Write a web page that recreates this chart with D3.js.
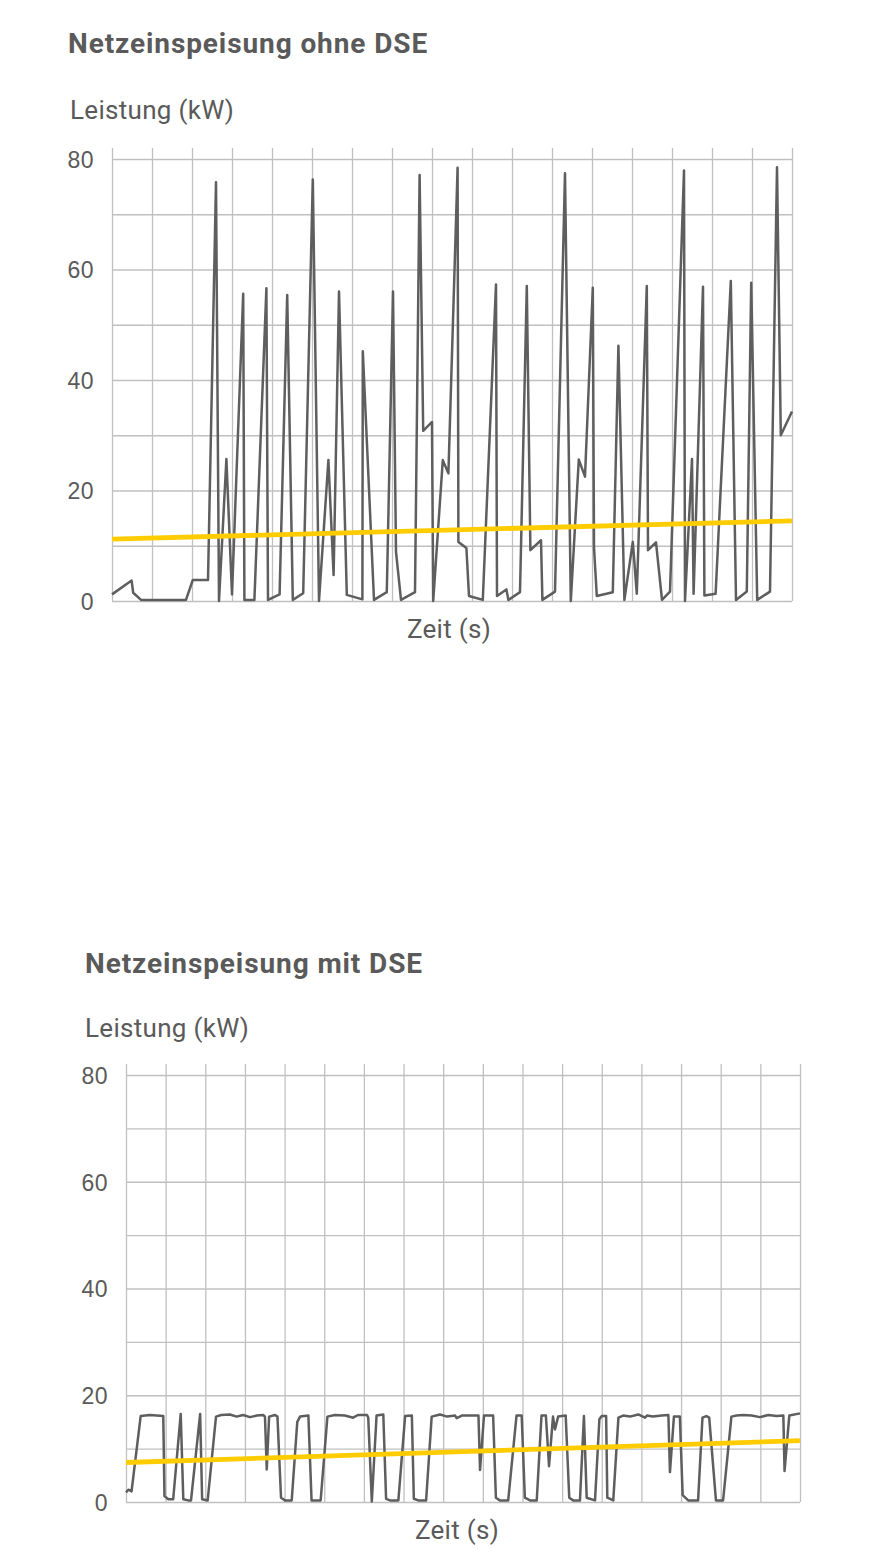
<!DOCTYPE html>
<html lang="de">
<head>
<meta charset="utf-8">
<title>Netzeinspeisung ohne / mit DSE</title>
<script src="https://cdn.jsdelivr.net/npm/d3@7"></script>
<style>
  html, body { margin: 0; padding: 0; background: #fff; }
  svg { display: block; font-family: Roboto, "Open Sans", sans-serif; }
  .grid line { stroke: #c0c0c0; stroke-width: 1.3; }
  .grid .domain { display: none; }
  .ylab text { fill: #5a5a5a; font-size: 23px; letter-spacing: 0.5px; }
  .ylab .domain, .ylab line { display: none; }
</style>
</head>
<body>
<div id="chart"></div>
<script>
// ---- data -------------------------------------------------------------
// Zeit runs 0..170 (one vertical grid line every 10), Leistung in kW

const Y_TICKS = [0, 20, 40, 60, 80];
const Y_GRID  = [0, 10, 20, 30, 40, 50, 60, 70, 80];
const X_GRID  = [0, 10, 20, 30, 40, 50, 60, 70, 80, 90, 100, 110, 120, 130, 140, 150, 160, 170];

// Netzeinspeisung ohne DSE
const OHNE_T = [0, 4.9, 5.3, 7.25, 18.5, 20.2, 24, 26, 26.75, 28.6, 30, 32.8, 33.1, 35.6, 38.6, 39,
  41.9, 43.8, 45.2, 47.8, 50.2, 51.75, 54.1, 55.4, 56.75, 58.7, 62.6, 62.7, 65.5, 68.7, 70.25, 71,
  72.25, 75.75, 76.9, 77.8, 80, 80.3, 82.7, 84.1, 86.4, 86.6, 88.6, 89.25, 92.7, 96, 96.25, 98.6,
  99.1, 102, 103.7, 104.6, 107.25, 107.6, 110.75, 113.25, 114.7, 116.7, 118.25, 120.2, 120.5, 121.2,
  125.2, 126.6, 128.1, 130.2, 131.2, 133.7, 134, 136, 137.5, 139.5, 143, 143.25, 145, 145.4,
  147.75, 148.1, 150.9, 154.7, 156, 158.7, 159.8, 161.3, 164.5, 166.25, 167.2, 170];
const OHNE_KW = [1.2, 3.7, 1.5, 0.2, 0.2, 3.8, 3.8, 75.8, 0, 25.7, 1.2, 55.6, 0.2, 0.2, 56.6, 0.2,
  1.2, 55.4, 0.2, 1.4, 76.3, 0, 25.5, 4.7, 56, 1.1, 0.3, 45.2, 0.2, 1.6, 56, 8.9,
  0.2, 1.6, 77.1, 30.8, 32.4, 0, 25.5, 23.1, 78.4, 10.7, 9.6, 0.9, 0.2, 57.3, 0.9, 2.1,
  0.2, 1.6, 57, 9.2, 11, 0.2, 1.7, 77.4, 0, 25.6, 22.5, 56.7, 9.7, 0.9,
  1.6, 46.2, 0.2, 10.7, 1.3, 57, 9.2, 10.6, 0.2, 1.7, 77.9, 0, 25.7, 1.3,
  56.9, 1.0, 1.3, 57.9, 0.2, 1.7, 57.6, 0.2, 1.7, 78.5, 30, 34.3];
const OHNE_TREND_T  = [0, 170];
const OHNE_TREND_KW = [11.2, 14.5];

// Netzeinspeisung mit DSE
const MIT_T = [0, 0.6, 1.4, 3.7, 6.05, 9.4, 9.7, 10.7, 11.9, 13.8, 14.45, 15.7, 16.4, 18.7, 19.2, 20.6,
  22.7, 24, 26.2, 27.9, 29.5, 31.3, 33, 34.6, 35.05, 35.5, 36.1, 37.6, 38.2, 39.1, 40.1, 41.8,
  43.2, 43.9, 46, 46.8, 49.1, 50.8, 52.7, 55.2, 57.3, 58.5, 60.8, 61.1, 62, 63.2, 64.9, 65.6,
  66.6, 68.7, 70.4, 72.1, 72.6, 73.7, 75.7, 77.1, 79.2, 81, 83, 83.4, 84.7, 86.8, 88.9, 89.3,
  90.3, 92.6, 93.3, 94.3, 96.4, 98.5, 99.8, 100.6, 101.9, 103.6, 104.8, 105.9, 106.7, 107.7, 108.2, 109,
  110.9, 111.8, 112.8, 114.5, 115.5, 116.2, 118.3, 119.4, 120, 121.1, 121.4, 122.9, 124.2, 125.4, 127.1, 129.2,
  130.9, 131.4, 132.9, 135.1, 136.8, 137.2, 138.2, 139.7, 140.4, 141.8, 144.3, 145.4, 146.4, 147.1, 148.8, 150.6,
  152.7, 154, 155.7, 157.8, 159.9, 162, 164.1, 165.8, 166.1, 167.3, 170];
const MIT_KW = [1.8, 2.3, 2.0, 16.1, 16.3, 16.1, 1.1, 0.5, 0.5, 16.5, 0.5, 0.3, 0.3, 16.5, 0.5, 0.3,
  16.0, 16.3, 16.4, 16.0, 16.3, 15.9, 16.2, 16.3, 16.0, 6.1, 16.0, 16.3, 16.0, 0.8, 0.3, 0.3,
  15.0, 16.0, 16.2, 0.3, 0.3, 16.0, 16.3, 16.2, 15.8, 16.3, 16.3, 15.8, 0.1, 16.2, 16.4, 0.6,
  0.3, 0.3, 16.1, 16.2, 0.6, 0.3, 0.3, 16.0, 16.4, 16.0, 16.2, 15.7, 16.2, 16.2, 16.2, 6.0,
  16.2, 16.2, 0.8, 0.3, 0.3, 16.2, 16.2, 0.8, 0.3, 0.3, 16.2, 16.2, 6.7, 16.0, 13.6, 16.0,
  16.2, 0.8, 0.3, 0.3, 16.1, 0.8, 0.3, 15.5, 16.1, 16.1, 0.8, 0.3, 15.8, 16.2, 16.0, 16.4,
  15.8, 16.2, 16.0, 16.2, 16.3, 5.6, 16.0, 16.0, 1.3, 0.3, 0.3, 15.8, 16.1, 15.8, 0.3, 0.3,
  16.0, 16.2, 16.3, 16.2, 15.9, 16.3, 16.1, 16.2, 5.8, 16.2, 16.6];
const MIT_TREND_T  = [0, 170];
const MIT_TREND_KW = [7.4, 11.5];

// ---- chart ------------------------------------------------------------

const W = 879, H = 1562;
const svg = d3.select('#chart').append('svg')
  .attr('width', W).attr('height', H).attr('viewBox', `0 0 ${W} ${H}`);

const zip = (ts, vs) => ts.map((t, i) => ({ t, v: vs[i] }));

function panel(o) {
  const w = o.right - o.left, h = o.bottom - o.top;
  const x = d3.scaleLinear().domain([0, 170]).range([0, w]);
  const y = d3.scaleLinear().domain([0, 80]).range([h, 0]);
  const g = svg.append('g').attr('transform', `translate(${o.left},${o.top})`);

  // titles
  svg.append('text').attr('x', o.titleX).attr('y', o.titleY)
    .attr('font-size', 28).attr('font-weight', 700).attr('fill', '#5a5a5a')
    .attr('letter-spacing', 0.9)
    .text(o.title);
  svg.append('text').attr('x', o.titleX + o.unitDx).attr('y', o.unitY)
    .attr('font-size', 26).attr('fill', '#5a5a5a').attr('letter-spacing', 0.3)
    .text('Leistung (kW)');
  svg.append('text').attr('x', o.zeitX).attr('y', o.bottom + 37)
    .attr('text-anchor', 'middle').attr('font-size', 26).attr('fill', '#5a5a5a')
    .attr('letter-spacing', 0.3)
    .text('Zeit (s)');

  // grid: horizontal every 10 kW, vertical poking a bit above the top
  g.append('g').attr('class', 'grid')
   .call(d3.axisLeft(y).tickValues(Y_GRID).tickSize(-w).tickFormat(''));
  g.append('g').attr('class', 'grid').attr('transform', `translate(0,${h})`)
   .call(d3.axisBottom(x).tickValues(X_GRID).tickSize(-(h + 11)).tickFormat(''));

  g.append('g').attr('class', 'ylab')
   .call(d3.axisLeft(y).tickValues(Y_TICKS).tickSize(0).tickPadding(18).tickFormat(d3.format('d')))
   .selectAll('text').attr('dy', '0.36em');

  const line = d3.line().x(d => x(d.t)).y(d => y(d.v));

  g.append('path').datum(zip(o.t, o.kw))
    .attr('fill', 'none').attr('stroke', '#5e5e5e')
    .attr('stroke-width', 2.5).attr('stroke-linejoin', 'round')
    .attr('d', line);

  g.append('path').datum(zip(o.trendT, o.trendKw))
    .attr('fill', 'none').attr('stroke', '#ffcc00')
    .attr('stroke-width', 4.8)
    .attr('d', line);
}

panel({
  title: 'Netzeinspeisung ohne DSE', titleX: 68, titleY: 53, unitDx: 2, unitY: 119,
  left: 112, right: 792, top: 159, bottom: 601, zeitX: 449,
  t: OHNE_T, kw: OHNE_KW, trendT: OHNE_TREND_T, trendKw: OHNE_TREND_KW,
});

panel({
  title: 'Netzeinspeisung mit DSE', titleX: 85, titleY: 973, unitDx: 0, unitY: 1037,
  left: 126, right: 800, top: 1075, bottom: 1502, zeitX: 457,
  t: MIT_T, kw: MIT_KW, trendT: MIT_TREND_T, trendKw: MIT_TREND_KW,
});
</script>
</body>
</html>
